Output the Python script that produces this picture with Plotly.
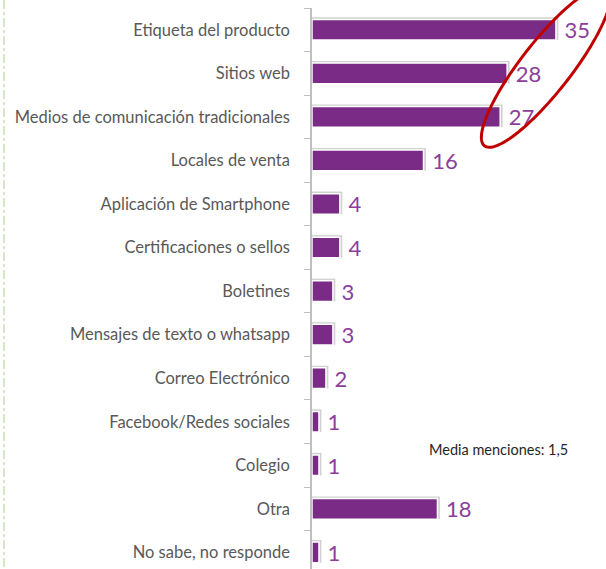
import numpy as np
import plotly.graph_objects as go

categories = [
    "Etiqueta del producto",
    "Sitios web",
    "Medios de comunicación tradicionales",
    "Locales de venta",
    "Aplicación de Smartphone",
    "Certificaciones o sellos",
    "Boletines",
    "Mensajes de texto o whatsapp",
    "Correo Electrónico",
    "Facebook/Redes sociales",
    "Colegio",
    "Otra",
    "No sabe, no responde",
]
values = [35, 28, 27, 16, 4, 4, 3, 3, 2, 1, 1, 18, 1]
note_text = "Media menciones: 1,5"

W, H = 606, 569
ML, MR, MT, MB = 312, 0, 8, 0
PW, PH = W - ML - MR, H - MT - MB
px_per_unit = 6.97
row_px = 43.55
x_max = PW / px_per_unit
y_bottom = PH / row_px - 0.5

BAR = "#7A2B86"
TXT = "#8B3E9B"
FONT = "Lato, Carlito, sans-serif"

fig = go.Figure()
# soft shadow behind bars
fig.add_trace(go.Bar(
    y=categories, x=[v + 0.35 for v in values], orientation="h",
    width=0.52, offset=-0.285,
    marker=dict(color="rgba(90,90,90,0.28)", line=dict(width=0)),
    hoverinfo="skip", showlegend=False,
))
fig.add_trace(go.Bar(
    y=categories, x=values, orientation="h",
    width=0.475, offset=-0.2375,
    marker=dict(color=BAR, line=dict(color="white", width=1.5)),
    text=[f" {v}" for v in values], textposition="outside",
    constraintext="none", cliponaxis=False,
    textfont=dict(family=FONT, size=22, color=TXT),
    showlegend=False,
))

fig.update_layout(
    width=W, height=H, barmode="overlay",
    margin=dict(l=ML, r=MR, t=MT, b=MB),
    paper_bgcolor="white", plot_bgcolor="white",
    font=dict(family=FONT),
)
fig.update_xaxes(range=[0, x_max], visible=False, showgrid=False, zeroline=False)
fig.update_yaxes(
    type="category", range=[y_bottom, -0.5],
    showline=True, linecolor="#BFBFBF", linewidth=1.5,
    ticks="outside", ticklen=6, tickcolor="#BFBFBF", tickwidth=1,
    tickson="boundaries", ticklabelstandoff=17,
    tickfont=dict(family=FONT, size=16.5, color="#595959"),
    showgrid=False, zeroline=False,
)

# annotation
fig.add_annotation(
    x=(498 - ML) / PW, y=1 - (449 - MT) / PH, xref="paper", yref="paper",
    xanchor="center", yanchor="middle",
    text=note_text, showarrow=False,
    font=dict(family=FONT, size=14.5, color="#262626"),
)

# left dash-dot green border line
fig.add_shape(
    type="line", xref="paper", yref="paper",
    x0=(4 - ML) / PW, x1=(4 - ML) / PW, y0=1 + MT / PH, y1=0,
    line=dict(color="#A9D18E", width=1, dash="dashdot"),
)

# red ellipse highlight (pixel geometry -> paper coords)
cx, cy, a, b, ang = 546, 67, 100, 25, np.deg2rad(52)
t = np.linspace(0, 2 * np.pi, 120)
ex = cx + a * np.cos(t) * np.cos(ang) + b * np.sin(t) * np.sin(ang)
ey = cy - a * np.cos(t) * np.sin(ang) + b * np.sin(t) * np.cos(ang)
pxs = (ex - ML) / PW
pys = 1 - (ey - MT) / PH
path = "M " + " L ".join(f"{x:.4f},{y:.4f}" for x, y in zip(pxs, pys)) + " Z"
fig.add_shape(type="path", xref="paper", yref="paper", path=path,
              line=dict(color="#C00000", width=3), fillcolor="rgba(0,0,0,0)")

fig.write_html(
    "out.html",
    config={"displayModeBar": False},
    post_script="document.body.style.margin='0';document.body.style.overflow='hidden';",
)
